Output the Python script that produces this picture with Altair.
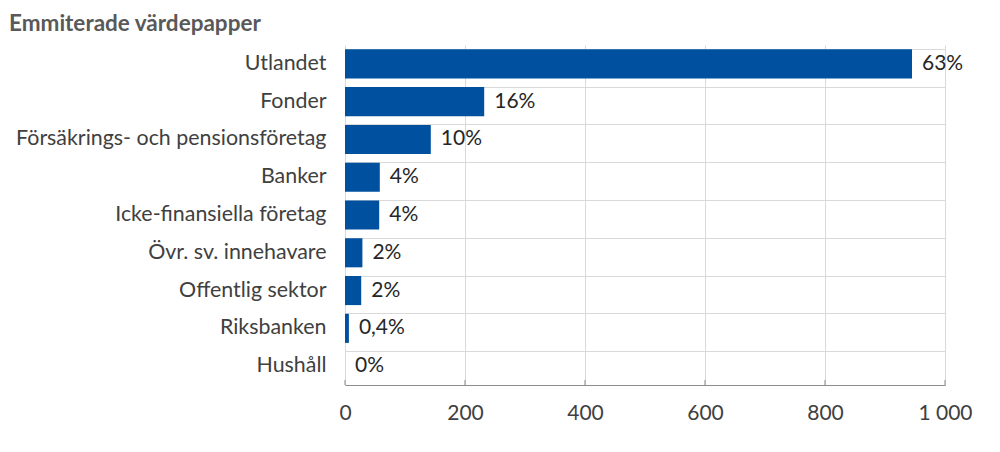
import altair as alt
import pandas as pd

categories = ["Utlandet", "Fonder", "Försäkrings- och pensionsföretag", "Banker",
              "Icke-finansiella företag", "Övr. sv. innehavare", "Offentlig sektor",
              "Riksbanken", "Hushåll"]
values = [945, 232, 143, 58, 57, 29, 27, 6.5, 0]
labels = ["63%", "16%", "10%", "4%", "4%", "2%", "2%", "0,4%", "0%"]
x_ticks = [0, 200, 400, 600, 800, 1000]

df = pd.DataFrame({"cat": categories, "val": values, "lab": labels})
tick_df = pd.DataFrame({"t": x_ticks})

FONT = "Lato"

y = alt.Y("cat:N", sort=categories, title=None,
          scale=alt.Scale(paddingInner=0.23, paddingOuter=0.115),
          axis=alt.Axis(labelFont=FONT, labelFontSize=21.4, labelColor="#404040",
                        labelPadding=19, labelLimit=400, ticks=False, domain=False,
                        grid=True, bandPosition=0, gridColor="#D9D9D9", gridWidth=1))
x = alt.X("val:Q", title=None,
          scale=alt.Scale(domain=[0, 1000], nice=False),
          axis=alt.Axis(values=x_ticks, format=",d",
                        labelExpr="replace(datum.label, ',', ' ')",
                        labelFont=FONT, labelFontSize=21, labelColor="#404040",
                        labelPadding=17, labelFlush=False, tickSize=0,
                        domainColor="#8C8C8C",
                        gridColor="#D9D9D9", gridWidth=1))

bars = alt.Chart(df).mark_bar(color="#0050A0").encode(x=x, y=y)
text = alt.Chart(df).mark_text(align="left", baseline="middle", dx=10, font=FONT,
                               fontSize=21, color="#262626").encode(
    x=alt.X("val:Q"), y=alt.Y("cat:N", sort=categories), text="lab:N")
ticks = alt.Chart(tick_df).mark_rule(color="#8C8C8C", strokeWidth=1).encode(
    x=alt.X("t:Q"), y=alt.value(335), y2=alt.value(340))

chart = (bars + text + ticks).properties(
    width=600, height=340,
    title=alt.TitleParams("Emmiterade värdepapper", anchor="start", frame="group",
                          dx=-336, font=FONT, fontSize=22.5, fontWeight="bold",
                          color="#595959", offset=10),
    autosize=alt.AutoSizeParams(type="none"),
    padding={"left": 337, "top": 37, "right": 40, "bottom": 60},
).configure_view(stroke=None)

chart.save("out.html", embed_options={"renderer": "svg", "actions": False})
